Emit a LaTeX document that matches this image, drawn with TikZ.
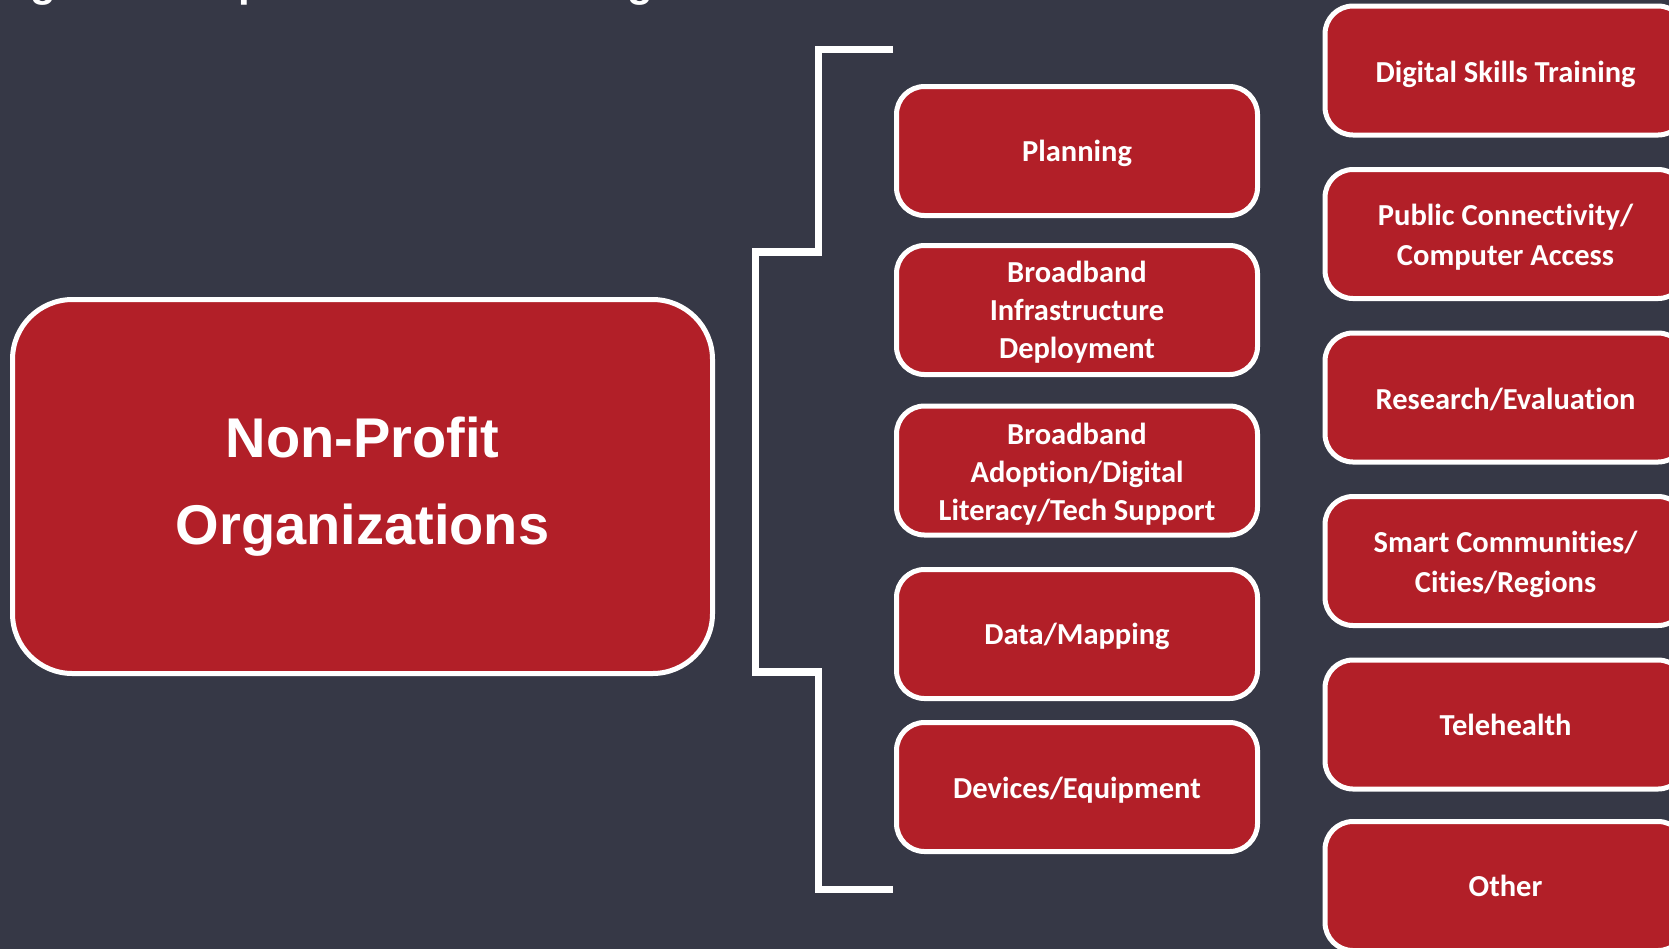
\documentclass[tikz,border=0pt]{standalone}
\usepackage{fontspec}
\newfontfamily\carl{Carlito}[Ligatures={NoCommon}]
\newfontfamily\arl{Liberation Sans}
\definecolor{bg}{RGB}{54,56,70}
\definecolor{boxred}{RGB}{178,31,40}
\begin{document}
\begin{tikzpicture}[x=0.5pt,y=-0.5pt,
  catbox/.style={draw=white, line width=2.5pt, fill=boxred, rounded corners=14pt,
    minimum width=180.5pt, minimum height=64.5pt, inner sep=0pt},
  midtext/.style={inner sep=0pt, align=center, text=white,
    font=\carl\bfseries\fontsize{15.25}{19}\selectfont},
  righttext/.style={inner sep=0pt, align=center, text=white,
    font=\carl\bfseries\fontsize{15.25}{20}\selectfont},
  bigbox/.style={draw=white, line width=2.5pt, fill=boxred, rounded corners=30pt,
    minimum width=350pt, minimum height=187pt, inner sep=0pt, align=center,
    text=white, font=\arl\bfseries\fontsize{28}{43.5}\selectfont},
  bracketline/.style={draw=white, line width=3.75pt, line join=miter},
  frag/.style={anchor=base west, inner sep=0pt, text=white, font=\arl\bfseries\fontsize{21}{21}\selectfont}]
\useasboundingbox (0,0) rectangle (1669,949);
\fill[bg] (0,0) rectangle (1669,949);
\begin{scope}
\clip (0,0) rectangle (1669,949);
% cut-off title fragments at the top edge
\node[frag] (f1) at (30,-3.8) {g};
\node[frag] (f2) at (238,-3.8) {p};
\node[frag] (f3) at (627,-3.8) {g};

% main box
\node[bigbox] (np) at (362.5,486.5) {Non-Profit\\Organizations};

% bracket
\coordinate (b1) at (893,49.5);
\coordinate (b2) at (818.5,49.5);
\coordinate (b3) at (818.5,252);
\coordinate (b4) at (755.5,252);
\coordinate (b5) at (755.5,672);
\coordinate (b6) at (818.5,672);
\coordinate (b7) at (818.5,889.5);
\coordinate (b8) at (893,889.5);
\draw[bracketline] (b1) -- (b2) -- (b3) -- (b4) -- (b5) -- (b6) -- (b7) -- (b8);

% middle column
\node[catbox] (m1) at (1077,151) {};
\node[catbox] (m2) at (1077,310) {};
\node[catbox] (m3) at (1077,470.5) {};
\node[catbox] (m4) at (1077,634) {};
\node[catbox] (m5) at (1077,787) {};
\node[midtext] (m1t) at ([yshift=-1.1pt]m1.center) {Planning};
\node[midtext] (m2t) at ([yshift=-1.1pt]m2.center) {Broadband\\Infrastructure\\Deployment};
\node[midtext] (m3t) at ([yshift=-1.6pt]m3.center) {Broadband\\Adoption/Digital\\Literacy/Tech Support};
\node[midtext] (m4t) at ([yshift=-1.1pt]m4.center) {Data/Mapping};
\node[midtext] (m5t) at ([yshift=-1.5pt]m5.center) {Devices/Equipment};

% right column
\node[catbox] (r1) at (1505.5,70.5) {};
\node[catbox] (r2) at (1505.5,234) {};
\node[catbox] (r3) at (1505.5,397.5) {};
\node[catbox] (r4) at (1505.5,561) {};
\node[catbox] (r5) at (1505.5,724.5) {};
\node[catbox] (r6) at (1505.5,886) {};
\node[righttext] (r1t) at ([yshift=-2pt]r1.center) {Digital Skills Training};
\node[righttext] (r2t) at ([yshift=-1.8pt]r2.center) {Public Connectivity/\\Computer Access};
\node[righttext] (r3t) at ([yshift=-1.1pt]r3.center) {Research/Evaluation};
\node[righttext] (r4t) at ([yshift=-1.6pt]r4.center) {Smart Communities/\\Cities/Regions};
\node[righttext] (r5t) at (r5.center) {Telehealth};
\node[righttext] (r6t) at (r6.center) {Other};
\end{scope}
\end{tikzpicture}
\end{document}
